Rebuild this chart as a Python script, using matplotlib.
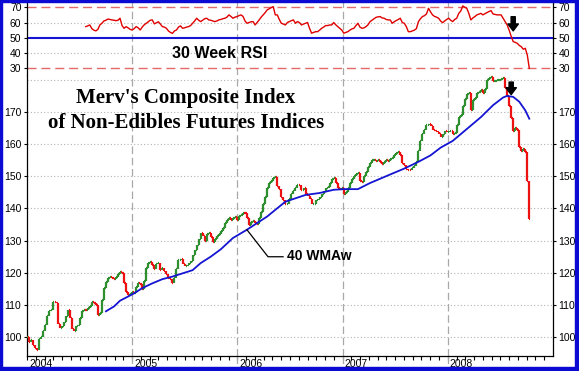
import numpy as np
import pandas as pd
import matplotlib
matplotlib.use('Agg')
import matplotlib.pyplot as plt
from matplotlib.collections import LineCollection
from matplotlib.patches import Rectangle

plt.rcParams['font.family'] = ['Liberation Sans', 'DejaVu Sans']

# ---------------- data ----------------
# weekly closes of the composite index, first week of 2004 onward
close_2004 = [100, 98.5, 99, 97.5, 96.5, 96, 99.5, 100, 102, 103.8,
              106.5, 108, 108.5, 111, 110.5, 104, 102.8, 103.3, 104.8, 106.4,
              108.5, 106, 102.5, 101.8, 103.5, 103.8, 106, 108, 108.5, 108.3,
              109, 109.5, 111, 110.5, 110, 107, 107.4, 111.5, 115.2, 117.2,
              118.5, 118.8, 118.5, 118.2, 118.8, 119.5, 120.3, 119.8, 116.7, 114.1,
              113, 113.5]
close_2005 = [114, 113.6, 115.5, 116.7, 116.5, 114.8, 117.5, 121.5, 123, 123.4,
              122.5, 121.3, 122.8, 123, 121, 121.5, 120.5, 119.5, 118.5, 118.2,
              116.7, 118.5, 121.3, 124, 124.4, 122.6, 122, 122.4, 122.9, 123.5,
              125.5, 127, 128.5, 130.5, 132.3, 131.5, 130, 132, 132.5, 131,
              129.5, 130.5, 131.5, 132, 133, 133.8, 135.5, 136.4, 136.9, 136.5,
              137, 137.4]
close_2006 = [136.5, 137.5, 138, 138.7, 138.5, 137, 135, 135.8, 136.2, 135.5,
              135.2, 137, 139, 141.3, 143.5, 146.5, 148, 148.5, 149.5, 149.8,
              147, 146, 143.5, 142.5, 141.3, 141.5, 143, 144.4, 145.5, 146.5,
              147.4, 147.2, 145.8, 146.5, 144.4, 144, 143, 141.3, 141.5, 142.5,
              142.8, 143.5, 144.4, 145.5, 146.4, 146.8, 148, 149, 149.5, 148,
              146.4, 146]
close_2007 = [146.5, 144.5, 145, 146.5, 148, 149.3, 150, 150.8, 151, 148.5,
              148.2, 150, 151.3, 153, 154.2, 155, 155.2, 154.8, 155, 154.5,
              153.9, 154.5, 155, 154.8, 155.5, 155.8, 156.5, 157.2, 157.6, 156.5,
              154, 153.5, 152.4, 152, 151.9, 152.5, 153.2, 154.5, 158, 161,
              163.3, 164.5, 165.9, 166.2, 165.5, 164.5, 164, 163.8, 163, 162.2,
              163, 164]
close_2008 = [163.7, 164, 164.2, 163.2, 163.5, 166, 168.4, 169, 172, 174,
              175.5, 175.8, 170.5, 173.7, 174.5, 175.8, 176.2, 176.8, 176, 177,
              180, 180.5, 181, 179.5, 179.5, 179.8, 180, 180.3, 180.5, 177.5,
              175, 172, 168, 164.2, 165, 164.5, 159, 158, 158.5, 157.5,
              148.4, 136.8]
close = close_2004 + close_2005 + close_2006 + close_2007 + close_2008

# 30 week RSI (weekly, ending on the last week)
rsi = [57.3, 57.8, 58.4, 56, 55, 54.5, 55.5, 58.4, 59.5, 61,
       61.5, 62.3, 62, 61.7, 61.5, 61.2, 61.5, 62.8, 58, 56.2,
       57.3, 56.5, 55.5, 55.1, 56, 57.3, 56.5, 55.1, 57, 58.5,
       59.5, 60.5, 61.5, 61.7, 59.1, 59.8, 60.5, 59, 57.3, 57,
       56.2, 54.5, 53.5, 52.9, 54.5, 55.1, 57, 57.8, 56.2, 56.5,
       57, 57.3, 58, 59.5, 61, 62.8, 61.5, 60.6, 61.5, 62.5,
       62.8, 61.7, 61.5, 61, 60.6, 61, 61.7, 62, 62.5, 62.8,
       63.5, 65, 64, 62.8, 63.5, 63.9, 64.5, 65, 64, 61,
       59.5, 60, 60.5, 60.6, 58.4, 60, 61.7, 63.5, 65, 66.5,
       68.3, 69, 69.8, 70.4, 65, 65, 62, 59.5, 59, 58.4,
       60, 60.6, 61.2, 61.7, 59.5, 60.6, 60, 58.4, 59, 59.5,
       60, 56.2, 53, 53.5, 54, 54, 55, 56.2, 57, 58,
       58, 58.4, 58.4, 60, 58.5, 57.3, 56.2, 55, 53, 53.5,
       54, 55, 55.8, 56.2, 58, 59.5, 57, 56.2, 56.5, 57.3,
       58.5, 60.6, 61.5, 62.5, 63.4, 63.7, 63.9, 63, 62.8, 62,
       61.7, 61.7, 59.5, 60.5, 61.3, 62, 62.8, 60, 59.5, 57.3,
       54, 54, 54.5, 55, 56, 60.6, 62.5, 63.9, 64.5, 65.6,
       69.3, 67, 65, 64, 63.5, 62.8, 61, 59.9, 61, 62,
       62.8, 61.5, 60.6, 62, 62.8, 66, 67.5, 70.9, 70, 69.3,
       66, 61.7, 63, 63.9, 65, 65.5, 66, 65, 65.8, 66.5,
       67.2, 67.8, 65.6, 65.3, 65, 65, 65, 62.8, 60.5, 58.4,
       55, 51, 47.5, 47, 46.4, 45, 44.2, 42.5, 43.1, 38.7,
       30]

# 40 week weighted moving average, read at these week numbers
wma_week = [39, 43, 46, 50, 53, 57, 62, 67, 72, 77, 82, 86, 91, 96, 102, 109,
            119, 128, 138, 145, 152, 157, 164, 170, 179, 187, 194, 200, 205,
            211, 218, 225, 231, 236, 238, 241, 244, 247, 249]
wma_val = [108, 109.5, 111.3, 112.6, 113.6, 115.2, 116.7, 118, 118.8, 119.8,
           120.8, 123, 125, 127.3, 130.8, 133.4, 137.5, 142.1, 144.2, 144.8,
           145.8, 146, 146, 147.9, 150.3, 152.4, 154.5, 156.5, 158.9, 161,
           164.7, 168.4, 172.1, 174.5, 175, 174.7, 173.2, 170.5, 167.9]

years = [2004, 2005, 2006, 2007, 2008]
rsi_ticks = [30, 40, 50, 60, 70]
price_ticks = [100, 110, 120, 130, 140, 150, 160, 170]

# ---------------- helpers ----------------
dates = pd.date_range('2004-01-02', periods=len(close), freq='7D')
xw = 2004 + (dates - pd.Timestamp('2004-01-01')).days.values / 365.25
rsi_x = xw[-len(rsi):]
wma_x = xw[np.array(wma_week)]

GREEN = '#2e8f2e'
RED = '#ee1111'
BLUE = '#1414d2'
GRID = '#b4b4b4'
YEARLINE = '#a8a8a8'

W, H = 579, 371
fig = plt.figure(figsize=(W / 100, H / 100), dpi=100)
L, R = 27 / W, 553 / W
axr = fig.add_axes([L, 1 - 75 / H, R - L, 74 / H])
axp = fig.add_axes([L, 1 - 356 / H, R - L, (356 - 75) / H])

for ax in (axr, axp):
    ax.set_xlim(2004, 2009)
    ax.spines['top'].set_visible(False)
    for s in ('left', 'right', 'bottom'):
        ax.spines[s].set_linewidth(0.9)
    ax.tick_params(axis='y', which='both', left=True, right=True,
                   labelleft=True, labelright=True, direction='out',
                   length=2.5, width=0.8, pad=1.5, labelsize=7.5)
    for yr in years[1:]:
        ax.axvline(yr, color=YEARLINE, lw=0.9, dashes=(6, 3), zorder=1)

# ---------- RSI panel ----------
axr.set_ylim(25.6, 74.1)
axr.spines['bottom'].set_visible(False)
axr.set_xticks([])
axr.set_yticks(rsi_ticks)
for v in (40, 60):
    axr.axhline(v, color=GRID, lw=0.8, ls=(0, (1, 2)), zorder=1)
for v in (30, 70):
    axr.axhline(v, color='#e46a6a', lw=1.0, dashes=(6.5, 3.5), zorder=2)
axr.axhline(50, color=BLUE, lw=1.5, zorder=2)
axr.plot(rsi_x, rsi, color='#e00000', lw=1.0, zorder=3)
axr.text(2005.83, 40, '30 Week RSI', fontsize=11.5, fontweight='bold',
         ha='center', va='center', zorder=4)
axr.annotate('', xy=(xw[241], 54.5), xytext=(xw[241], 63.8),
             arrowprops=dict(arrowstyle='simple,head_length=0.5,head_width=0.75,tail_width=0.3',
                             color='black', mutation_scale=10, shrinkA=0, shrinkB=0), zorder=5)

# ---------- price panel ----------
axp.set_ylim(94.1, 181.5)
axp.set_yticks(price_ticks)
for v in price_ticks + [180]:
    axp.axhline(v, color=GRID, lw=0.8, ls=(0, (1, 2)), zorder=1)

half = 2.8 / 365.25
segs, cols = [], []
for i, c in enumerate(close):
    o = close[i - 1] if i > 0 else close[0]
    col = GREEN if c >= o else RED
    segs.append([(xw[i], o), (xw[i], c)])
    segs.append([(xw[i] - half, o), (xw[i], o)])
    segs.append([(xw[i], c), (xw[i] + half, c)])
    cols += [col, col, col]
axp.add_collection(LineCollection(segs, colors=cols, linewidths=1.6, zorder=3))

axp.plot(wma_x, wma_val, color=BLUE, lw=1.3, zorder=4)

axp.text(2005.51, 172.8, "Merv's Composite Index", family=['Liberation Serif'],
         fontsize=15, fontweight='bold', ha='center', va='baseline', zorder=5)
axp.text(2005.51, 165.0, "of Non-Edibles Futures Indices", family=['Liberation Serif'],
         fontsize=15, fontweight='bold', ha='center', va='baseline', zorder=5)

axp.plot([2006.091, 2006.291, 2006.434], [133.35, 124.97, 124.97],
         color='black', lw=0.9, zorder=5)
axp.text(2006.47, 125.2, '40 WMAw', fontsize=10, fontweight='bold',
         ha='left', va='center', zorder=5)

axp.annotate('', xy=(xw[240], 175.4), xytext=(xw[240], 179.3),
             arrowprops=dict(arrowstyle='simple,head_length=0.5,head_width=0.75,tail_width=0.3',
                             color='black', mutation_scale=10, shrinkA=0, shrinkB=0), zorder=6)

# x axis
axp.set_xticks(years)
axp.set_xticklabels([])
axp.set_xticks(np.arange(2004, 2009, 1 / 12), minor=True)
axp.tick_params(axis='x', which='both', direction='out', length=3, width=0.8)
for yr in years:
    axp.annotate(str(yr), xy=(yr, 0), xycoords=('data', 'axes fraction'),
                 xytext=(1.5, -2.5), textcoords='offset points',
                 ha='left', va='top', fontsize=7.5)
for yr in years[1:]:
    axp.plot([yr, yr], [0, -0.045], transform=axp.get_xaxis_transform(),
             color=YEARLINE, lw=0.9, dashes=(6, 3), clip_on=False)

# blue frame
BC = '#0a0ad2'
fig.patches.append(Rectangle((0, 0), 2 / W, 1, transform=fig.transFigure, color=BC))
fig.patches.append(Rectangle((0, 1 - 2 / H), 1, 2 / H, transform=fig.transFigure, color=BC))
fig.patches.append(Rectangle((1 - 4 / W, 0), 4 / W, 1, transform=fig.transFigure, color=BC))
fig.patches.append(Rectangle((0, 0), 1, 4 / H, transform=fig.transFigure, color=BC))

fig.savefig('out.png', dpi=100)
